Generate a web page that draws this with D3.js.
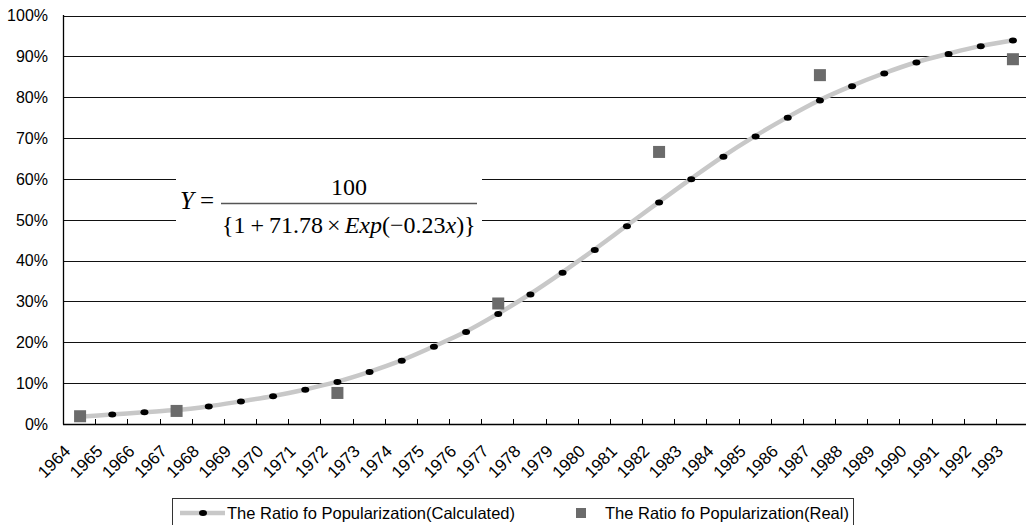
<!DOCTYPE html>
<html>
<head>
<meta charset="utf-8">
<script src="https://cdn.jsdelivr.net/npm/d3@7"></script>
<style>
  html, body { margin: 0; padding: 0; background: #fff; }
  svg { display: block; }
  text { font-family: "Liberation Sans", Arial, sans-serif; fill: #000; }
</style>
</head>
<body>
<svg id="chart" width="1026" height="525"></svg>
<script>
const years = [1964,1965,1966,1967,1968,1969,1970,1971,1972,1973,1974,1975,1976,1977,1978,1979,1980,1981,1982,1983,1984,1985,1986,1987,1988,1989,1990,1991,1992,1993];
const calculated = [1.8,2.3,2.9,3.4,4.3,5.5,6.8,8.4,10.3,12.7,15.5,18.9,22.5,26.9,31.7,37.0,42.6,48.4,54.2,59.9,65.4,70.4,75.0,79.2,82.7,85.8,88.5,90.6,92.5,93.9];
const realYears = [1964,1967,1972,1977,1982,1987,1993];
const realValues = [1.9,3.2,7.6,29.5,66.6,85.4,89.3];
const yTicks = [0,10,20,30,40,50,60,70,80,90,100];
const legendLabels = ["The Ratio fo Popularization(Calculated)", "The Ratio fo Popularization(Real)"];

const svg = d3.select("#chart");
const pL = 63, pR = 1028, pT = 15.5, pB = 424;

const x = d3.scaleBand().domain(years).range([pL, pR]).padding(0);
const y = d3.scaleLinear().domain([0, 100]).range([pB, pT]);
const cx = d => x(d) + x.bandwidth() / 2;

// gridlines
svg.append("g").selectAll("line").data(yTicks.filter(t => t > 0)).join("line")
  .attr("x1", pL).attr("x2", 1026)
  .attr("y1", d => Math.round(y(d)) + 0.5).attr("y2", d => Math.round(y(d)) + 0.5)
  .attr("stroke", "#111").attr("stroke-width", 1);

// y labels
svg.append("g").selectAll("text").data(yTicks).join("text")
  .attr("x", 48).attr("y", d => y(d)).attr("dy", "0.36em")
  .attr("text-anchor", "end").style("font-size", "16px")
  .text(d => d + "%");

// formula box (white background interrupting gridlines)
svg.append("rect").attr("x", 176).attr("y", 165).attr("width", 306).attr("height", 80).attr("fill", "#fff");

// axes
svg.append("line").attr("x1", pL + 0.5).attr("x2", pL + 0.5).attr("y1", pT - 0.5).attr("y2", pB + 0.5)
  .attr("stroke", "#000").attr("stroke-width", 1.3);
svg.append("line").attr("x1", pL).attr("x2", 1026).attr("y1", pB + 0.5).attr("y2", pB + 0.5)
  .attr("stroke", "#000").attr("stroke-width", 1.5);
// x ticks (inward, at band boundaries)
svg.append("g").selectAll("line").data(years.slice(1)).join("line")
  .attr("x1", d => Math.round(x(d)) + 0.5).attr("x2", d => Math.round(x(d)) + 0.5)
  .attr("y1", pB - 5).attr("y2", pB)
  .attr("stroke", "#000").attr("stroke-width", 1);

// x labels
svg.append("g").selectAll("text").data(years).join("text")
  .attr("transform", d => `translate(${cx(d) - 12},${pB + 24}) rotate(-45)`)
  .attr("text-anchor", "end").attr("dy", "0.36em")
  .style("font-size", "17px")
  .text(d => d);

// calculated curve
const line = d3.line().x((d, i) => cx(years[i])).y(d => y(d)).curve(d3.curveCatmullRom.alpha(0.5));
svg.append("path").datum(calculated).attr("d", line)
  .attr("fill", "none").attr("stroke", "#c8c8c8").attr("stroke-width", 4.5);
svg.append("g").selectAll("ellipse").data(calculated).join("ellipse")
  .attr("cx", (d, i) => cx(years[i]) + 1).attr("cy", d => y(d))
  .attr("rx", 4).attr("ry", 3).attr("fill", "#000");

// real squares
svg.append("g").selectAll("rect").data(realValues).join("rect")
  .attr("x", (d, i) => cx(realYears[i]) + 1 - 6).attr("y", d => y(d) - 6)
  .attr("width", 12).attr("height", 12).attr("fill", "#6b6b6b");

// formula
const serif = '"Liberation Serif", "Times New Roman", serif';
svg.append("text").attr("x", 180).attr("y", 209).style("font-family", serif).style("font-size", "25px")
  .html('<tspan font-style="italic">Y</tspan><tspan dx="6">=</tspan>');
svg.append("text").attr("x", 349).attr("y", 195).attr("text-anchor", "middle")
  .style("font-family", serif).style("font-size", "24px").text("100");
svg.append("line").attr("x1", 221).attr("x2", 477).attr("y1", 203.5).attr("y2", 203.5)
  .attr("stroke", "#555").attr("stroke-width", 1.3);
svg.append("text").attr("x", 222).attr("y", 233)
  .style("font-family", serif).style("font-size", "24px")
  .html('{1<tspan dx="5">+</tspan><tspan dx="5">71.78</tspan><tspan dx="4">×</tspan><tspan dx="4" font-style="italic">Exp</tspan>(−0.23<tspan font-style="italic">x</tspan>)}');

// legend
const lg = svg.append("g");
lg.append("rect").attr("x", 172.5).attr("y", 498.5).attr("width", 681).attr("height", 30)
  .attr("fill", "#fff").attr("stroke", "#333").attr("stroke-width", 1);
lg.append("line").attr("x1", 180).attr("x2", 225).attr("y1", 513).attr("y2", 513)
  .attr("stroke", "#c8c8c8").attr("stroke-width", 4.5);
lg.append("ellipse").attr("cx", 203).attr("cy", 513).attr("rx", 4).attr("ry", 3).attr("fill", "#000");
lg.append("text").attr("x", 227).attr("y", 513).attr("dy", "0.36em").style("font-size", "16.5px").text(legendLabels[0]);
lg.append("rect").attr("x", 576).attr("y", 508).attr("width", 10).attr("height", 10).attr("fill", "#6b6b6b");
lg.append("text").attr("x", 605).attr("y", 513).attr("dy", "0.36em").style("font-size", "16.5px").text(legendLabels[1]);
</script>
</body>
</html>
